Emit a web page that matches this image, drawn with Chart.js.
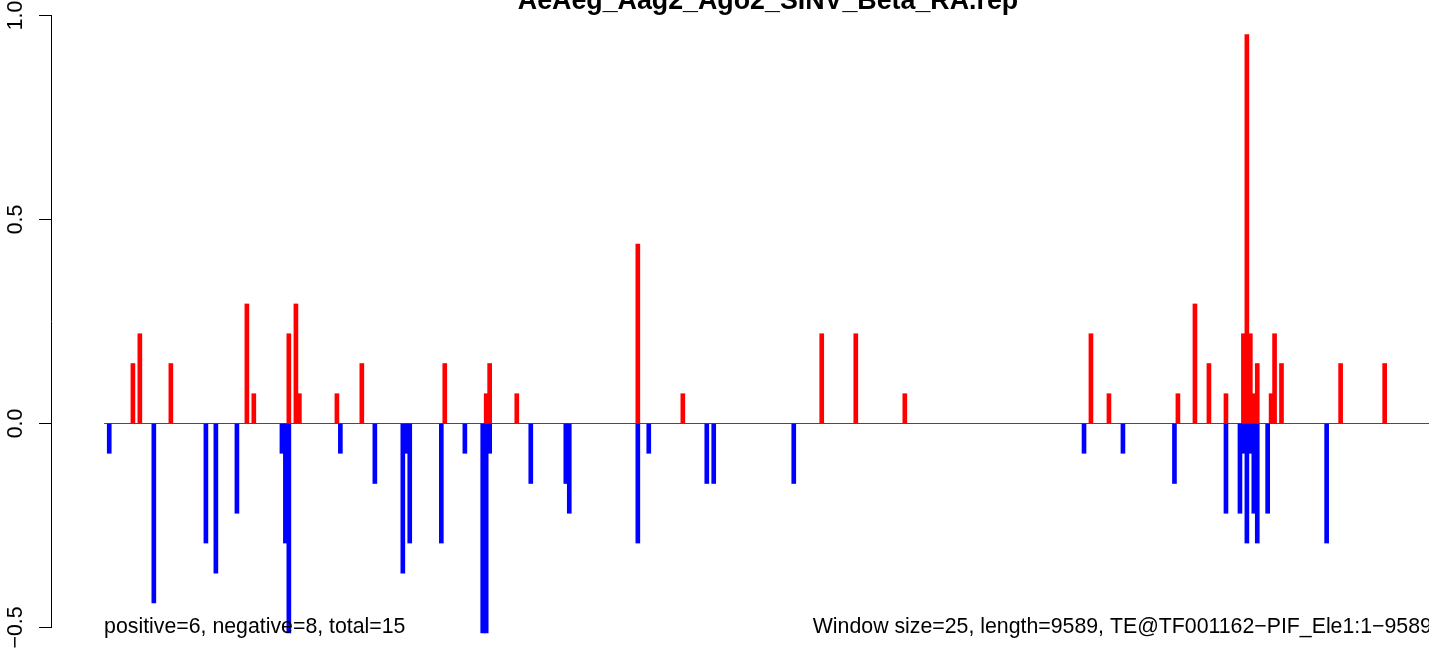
<!DOCTYPE html>
<html>
<head>
<meta charset="utf-8">
<script src="https://cdn.jsdelivr.net/npm/chart.js@4.4.1/dist/chart.umd.min.js"></script>
<style>
  html, body { margin: 0; padding: 0; background: #fff; overflow: hidden; width: 1429px; height: 654px; }
  #wrap { position: absolute; left: 0; top: 0; width: 1500px; height: 654px; }
</style>
</head>
<body>
<div id="wrap"><canvas id="c" width="1500" height="654"></canvas></div>
<script>
// ---- data ----
const titleText = "AeAeg_Aag2_Ago2_SINV_Beta_RA.rep";
const leftNote = "positive=6, negative=8, total=15";
const rightNote = "Window size=25, length=9589, TE@TF001162\u2212PIF_Ele1:1\u22129589";
const seqStart = 1;
const seqLength = 9589;

const posX = [209, 259, 483, 1032, 1082, 1335, 1386, 1411, 1682, 1862, 2461, 2760, 2785, 2981, 3855, 4180, 5183, 5429, 5783, 7127, 7257, 7755, 7878, 7979, 8102, 8228, 8253, 8278, 8303, 8328, 8428, 8453, 8503, 8930, 9248];
const posY = [0.147, 0.22, 0.147, 0.293, 0.073, 0.22, 0.293, 0.073, 0.073, 0.147, 0.147, 0.073, 0.147, 0.073, 0.44, 0.073, 0.22, 0.22, 0.073, 0.22, 0.073, 0.073, 0.293, 0.147, 0.073, 0.22, 0.953, 0.22, 0.073, 0.147, 0.073, 0.22, 0.147, 0.147, 0.147];

const negX = [38, 360, 736, 808, 960, 1285, 1310, 1335, 1707, 1956, 2158, 2183, 2208, 2436, 2606, 2735, 2760, 2785, 3082, 3335, 3360, 3855, 3934, 4353, 4403, 4981, 7077, 7358, 7730, 8102, 8203, 8228, 8253, 8278, 8303, 8328, 8403, 8829];
const negY = [-0.073, -0.44, -0.293, -0.367, -0.22, -0.073, -0.293, -0.513, -0.073, -0.147, -0.367, -0.073, -0.293, -0.293, -0.073, -0.513, -0.513, -0.073, -0.147, -0.147, -0.22, -0.293, -0.073, -0.147, -0.147, -0.147, -0.073, -0.073, -0.147, -0.22, -0.22, -0.073, -0.293, -0.073, -0.22, -0.293, -0.22, -0.293];

const yTickValues = [-0.5, 0.0, 0.5, 1.0];
const yTickLabels = ["\u22120.5", "0.0", "0.5", "1.0"];

// ---- build ----
const span = seqLength - seqStart;
const xMin = seqStart - 0.04 * span;
const xMax = seqLength + 0.04 * span;

const textPlugin = {
  id: 'rtext',
  afterDraw(chart) {
    const ctx = chart.ctx;
    const xs = chart.scales.x, ys = chart.scales.y;
    const ca = chart.chartArea;
    ctx.save();
    ctx.fillStyle = '#000';
    // title
    ctx.font = 'bold 26.8px "Liberation Sans", Arial, sans-serif';
    ctx.textAlign = 'center';
    ctx.textBaseline = 'alphabetic';
    ctx.fillText(titleText, (ca.left + ca.right) / 2, 9);
    // y tick labels (rotated)
    ctx.font = '21.3px "Liberation Sans", Arial, sans-serif';
    yTickValues.forEach((v, i) => {
      const py = ys.getPixelForValue(v);
      ctx.save();
      ctx.translate(21.5, py);
      ctx.rotate(-Math.PI / 2);
      ctx.textAlign = 'center';
      ctx.textBaseline = 'alphabetic';
      ctx.fillText(yTickLabels[i], 0, 0);
      ctx.restore();
    });
    // bottom notes
    const yb = ys.getPixelForValue(-0.5);
    ctx.textBaseline = 'middle';
    ctx.textAlign = 'left';
    ctx.fillText(leftNote, xs.getPixelForValue(seqStart), yb);
    ctx.textAlign = 'right';
    ctx.fillText(rightNote, xs.getPixelForValue(seqLength), yb);
    ctx.restore();
  }
};

new Chart(document.getElementById('c'), {
  type: 'bar',
  data: {
    datasets: [
      {
        label: 'positive',
        data: posX.map((x, i) => ({ x: x, y: posY[i] })),
        backgroundColor: '#ff0000',
        borderWidth: 0,
        barThickness: 4,
        grouped: false,
        clip: false,
        order: 1
      },
      {
        label: 'negative',
        data: negX.map((x, i) => ({ x: x, y: negY[i] })),
        backgroundColor: '#0000ff',
        borderWidth: 0,
        barThickness: 4,
        grouped: false,
        clip: false,
        order: 2
      },
      {
        type: 'line',
        label: 'zero',
        data: [{ x: seqStart, y: 0 }, { x: seqLength, y: 0 }],
        borderColor: '#4d4d4d',
        borderWidth: 1,
        pointRadius: 0,
        fill: false,
        order: 3
      }
    ]
  },
  options: {
    responsive: false,
    animation: false,
    devicePixelRatio: 1,
    layout: { padding: { left: 0, right: 15, top: 15.5, bottom: 26.5 } },
    plugins: { legend: { display: false }, tooltip: { enabled: false }, title: { display: false } },
    scales: {
      x: {
        type: 'linear',
        display: false,
        min: xMin,
        max: xMax,
        offset: false
      },
      y: {
        type: 'linear',
        min: -0.5,
        max: 1.0,
        afterBuildTicks(scale) { scale.ticks = yTickValues.map(v => ({ value: v })); },
        afterFit(scale) { scale.width = 51; },
        ticks: { display: false },
        grid: { display: true, drawOnChartArea: false, drawTicks: true, tickLength: 12, color: '#000', lineWidth: 1 },
        border: { display: true, color: '#000', width: 1 }
      }
    }
  },
  plugins: [textPlugin]
});
</script>
</body>
</html>
